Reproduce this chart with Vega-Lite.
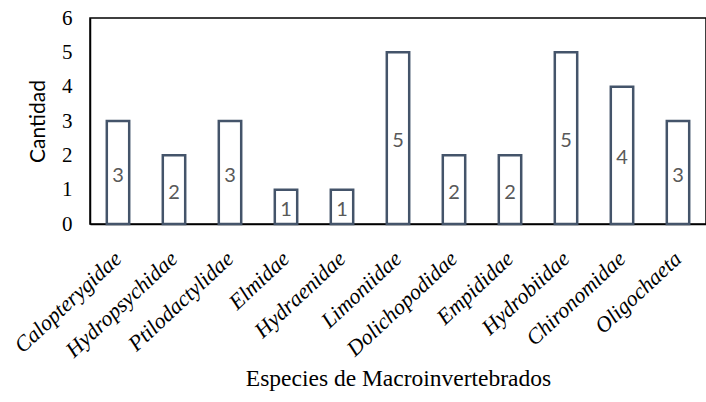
{
  "$schema": "https://vega.github.io/schema/vega-lite/v6.json",
  "width": 616,
  "height": 206,
  "autosize": {"type": "none"},
  "padding": {"left": 90, "top": 18, "right": 0, "bottom": 178},
  "background": "white",
  "config": {
    "view": {"stroke": "black", "strokeWidth": 1.5}
  },
  "data": {
    "values": [
      {"especie": "Calopterygidae", "n": 3},
      {"especie": "Hydropsychidae", "n": 2},
      {"especie": "Ptilodactylidae", "n": 3},
      {"especie": "Elmidae", "n": 1},
      {"especie": "Hydraenidae", "n": 1},
      {"especie": "Limoniidae", "n": 5},
      {"especie": "Dolichopodidae", "n": 2},
      {"especie": "Empididae", "n": 2},
      {"especie": "Hydrobiidae", "n": 5},
      {"especie": "Chironomidae", "n": 4},
      {"especie": "Oligochaeta", "n": 3}
    ]
  },
  "encoding": {
    "x": {
      "field": "especie",
      "type": "nominal",
      "sort": null,
      "scale": {"paddingInner": 0.6, "paddingOuter": 0.3},
      "axis": {
        "title": "Especies de Macroinvertebrados",
        "titleFont": "Liberation Serif",
        "titleFontSize": 23.5,
        "titleFontWeight": "normal",
        "titleColor": "black",
        "titlePadding": 6,
        "labelFont": "Liberation Serif",
        "labelFontStyle": "italic",
        "labelFontSize": 22,
        "labelColor": "black",
        "labelAngle": -43,
        "labelAlign": "right",
        "labelBaseline": "middle",
        "labelPadding": 31,
        "labelOverlap": false,
        "ticks": false,
        "domainColor": "black",
        "domainWidth": 1.5
      }
    }
  },
  "layer": [
    {
      "mark": {"type": "bar", "fill": "white", "stroke": "#44546A", "strokeWidth": 2.5},
      "encoding": {
        "y": {
          "field": "n",
          "type": "quantitative",
          "scale": {"domain": [0, 6]},
          "axis": {
            "title": "Cantidad",
            "titleFont": "Lato",
            "titleFontSize": 21,
            "titleFontWeight": "normal",
            "titleColor": "black",
            "titlePadding": 13,
            "labelFont": "Liberation Serif",
            "labelFontSize": 21,
            "labelColor": "black",
            "labelPadding": 18,
            "ticks": false,
            "grid": false,
            "tickCount": 6,
            "domainColor": "black",
            "domainWidth": 1.5
          }
        }
      }
    },
    {
      "mark": {"type": "text", "font": "Lato", "fontSize": 20, "color": "#595959", "baseline": "middle", "dy": 3},
      "encoding": {
        "y": {"field": "n", "type": "quantitative", "scale": {"domain": [0, 12]}, "axis": null},
        "text": {"field": "n", "type": "quantitative"}
      }
    }
  ],
  "resolve": {"scale": {"y": "independent"}}
}
